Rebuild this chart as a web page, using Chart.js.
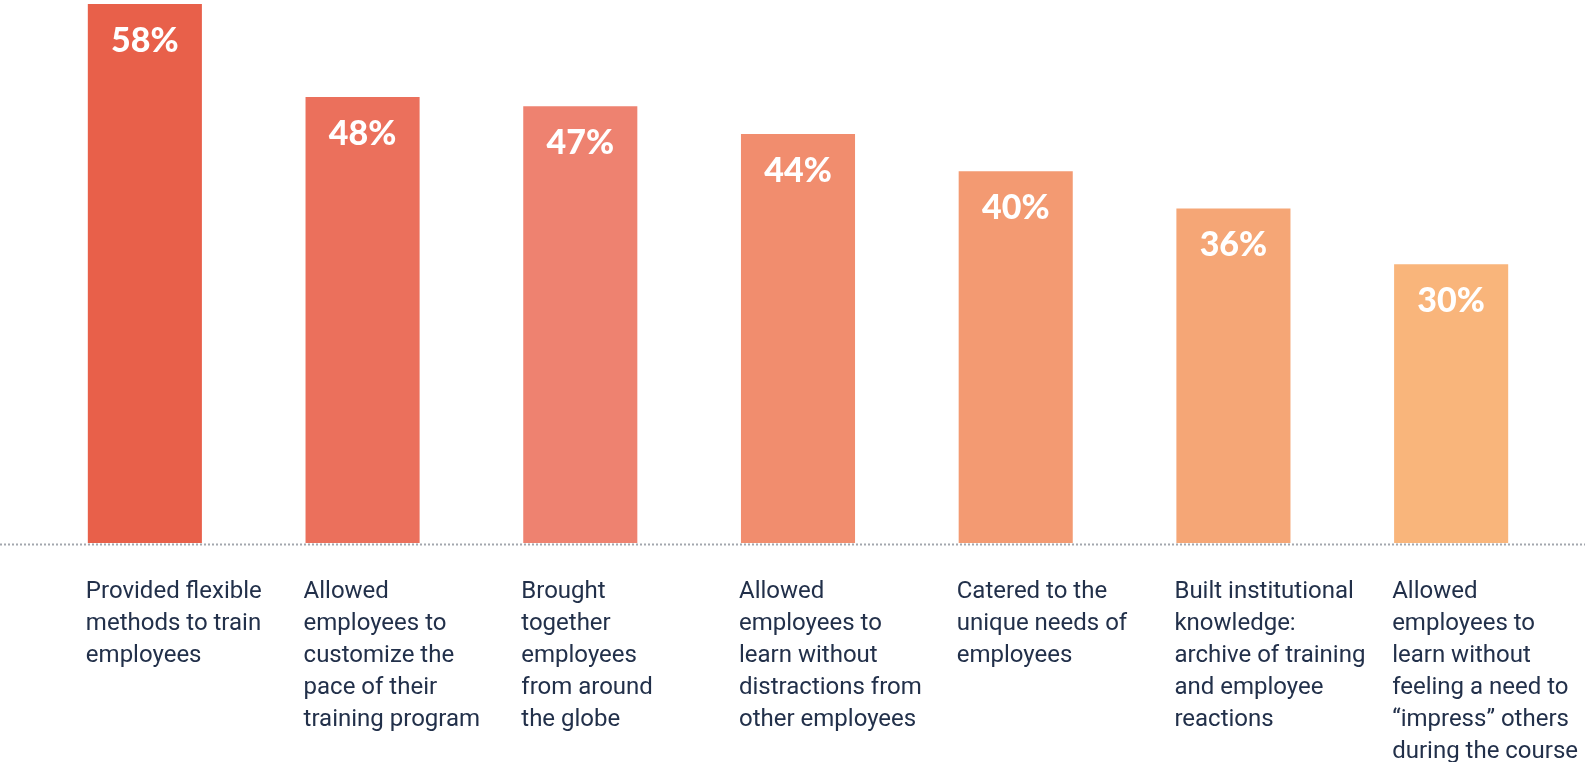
<!DOCTYPE html>
<html>
<head>
<meta charset="utf-8">
<script src="https://cdn.jsdelivr.net/npm/chart.js@4"></script>
<style>
  html, body { margin: 0; padding: 0; background: #fff; }
  #wrap { width: 1585px; height: 762px; position: relative; overflow: hidden; }
</style>
</head>
<body>
<div id="wrap"><canvas id="chart"></canvas></div>
<script>
let categories = [
    ["Provided flexible", "methods to train", "employees"],
    ["Allowed", "employees to", "customize the", "pace of their", "training program"],
    ["Brought", "together", "employees", "from around", "the globe"],
    ["Allowed", "employees to", "learn without", "distractions from", "other employees"],
    ["Catered to the", "unique needs of", "employees"],
    ["Built institutional", "knowledge:", "archive of training", "and employee", "reactions"],
    ["Allowed", "employees to", "learn without", "feeling a need to", "\u201cimpress\u201d others", "during the course"]
];
let values = [58, 48, 47, 44, 40, 36, 30];
let colors = ['#E8604A', '#EB705C', '#EE8270', '#F18D6E', '#F39A72', '#F5A676', '#F9B57B'];

// white percentage inside the top of each bar
const valueLabels = {
    id: 'valueLabels',
    afterDatasetsDraw(chart) {
        const ctx = chart.ctx;
        const meta = chart.getDatasetMeta(0);
        ctx.save();
        ctx.fillStyle = '#ffffff';
        ctx.font = '900 34px Lato';
        ctx.textAlign = 'center';
        ctx.textBaseline = 'middle';
        meta.data.forEach((bar, i) => {
            ctx.fillText(values[i] + '%', bar.x, bar.y + 37);
        });
        ctx.restore();
    }
};

// dotted baseline across the whole width
const baseline = {
    id: 'baseline',
    afterDraw(chart) {
        const ctx = chart.ctx;
        const y = chart.chartArea.bottom + 1.5;
        ctx.save();
        ctx.strokeStyle = '#a3a7ae';
        ctx.lineWidth = 2;
        ctx.setLineDash([2, 2]);
        ctx.beginPath();
        ctx.moveTo(0, y);
        ctx.lineTo(chart.width, y);
        ctx.stroke();
        ctx.restore();
    }
};

new Chart(document.getElementById('chart'), {
    type: 'bar',
    data: {
        labels: categories,
        datasets: [{
            data: values,
            backgroundColor: colors,
            borderWidth: 0,
            barPercentage: 0.524,
            categoryPercentage: 1
        }]
    },
    options: {
        responsive: true,
        maintainAspectRatio: false,
        animation: false,
        layout: { padding: { top: 4, left: 36, right: 25, bottom: 0 } },
        plugins: {
            legend: { display: false },
            tooltip: { enabled: false }
        },
        scales: {
            y: {
                display: false,
                min: 0,
                max: 58
            },
            x: {
                grid: { display: false, drawTicks: false },
                border: { display: false },
                ticks: {
                    autoSkip: false,
                    maxRotation: 0,
                    align: 'start',
                    labelOffset: -59,
                    padding: 33,
                    color: '#22304a',
                    font: { family: 'Roboto', size: 24, lineHeight: 32 / 24 }
                },
                afterFit(scale) {
                    scale.height = 219;
                    scale.paddingLeft = 0;
                    scale.paddingRight = 0;
                }
            }
        }
    },
    plugins: [valueLabels, baseline]
});
</script>
</body>
</html>
